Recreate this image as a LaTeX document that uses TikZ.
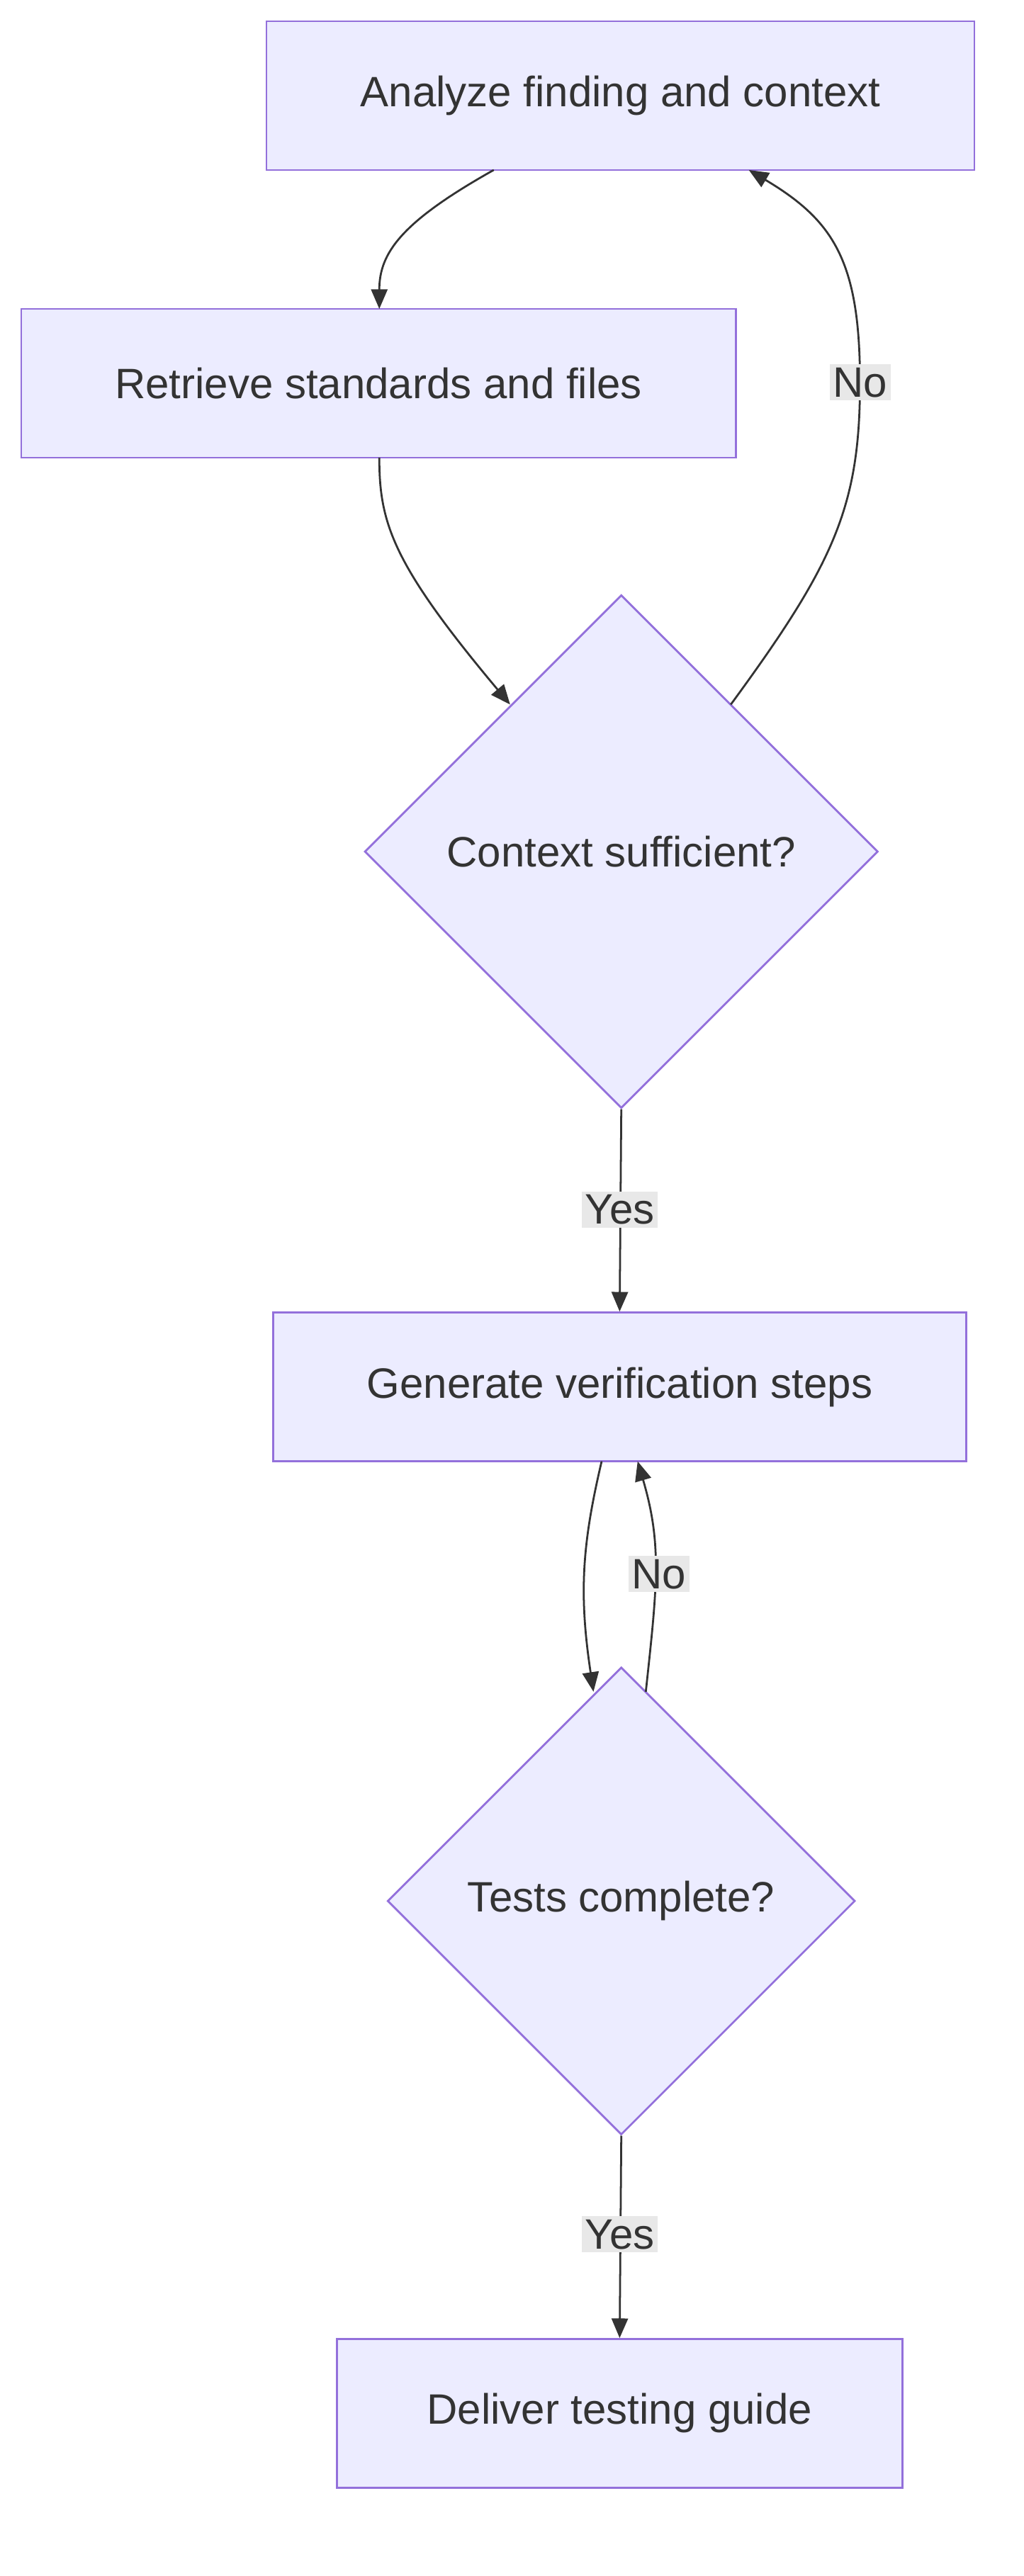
\documentclass[tikz,border=0pt]{standalone}
\usepackage{fontspec}
\setmainfont{Liberation Sans}
\usetikzlibrary{shapes.geometric,arrows.meta}
\definecolor{nfill}{HTML}{ECECFF}
\definecolor{nline}{HTML}{9370DB}
\definecolor{txt}{HTML}{333333}
\definecolor{lbl}{HTML}{E8E8E8}
\begin{document}
\begin{tikzpicture}[x=1pt,y=-1pt,
  box/.style={draw=nline,fill=nfill,line width=1.2pt,text=txt,font=\fontsize{26}{30}\selectfont,inner sep=0pt},
  dia/.style={draw=nline,fill=nfill,line width=1.2pt,diamond,text=txt,font=\fontsize{26}{30}\selectfont,inner sep=0pt,aspect=1},
  lab/.style={fill=lbl,text=txt,font=\fontsize{26}{30}\selectfont,inner sep=2pt},
  arr/.style={draw=txt,line width=1.2pt,-{Triangle[length=12pt,width=10pt]}}]
\useasboundingbox (0,0) rectangle (626,1576);
\node[box,minimum width=433pt,minimum height=91pt] (a) at (379.5,58.5) {Analyze finding and context};
\node[box,minimum width=437pt,minimum height=91pt] (r) at (231.5,234.5) {Retrieve standards and files};
\node[dia,minimum width=314pt,minimum height=314pt] (d1) at (380,521) {Context sufficient?};
\node[box,minimum width=424pt,minimum height=91pt] (g) at (379,848.5) {Generate verification steps};
\node[dia,minimum width=286pt,minimum height=286pt] (d2) at (380,1163) {Tests complete?};
\node[box,minimum width=346pt,minimum height=91pt] (dl) at (379,1476.5) {Deliver testing guide};
\coordinate (a1) at (302,104); \coordinate (r1) at (232,189);
\draw[arr] (a1) .. controls (245,136) and (232,155) .. (r1);
\coordinate (r2) at (232,280); \coordinate (d1a) at (312,431);
\draw[arr] (r2) .. controls (232,320) and (240,345) .. (d1a);
\coordinate (d1b) at (447,431); \coordinate (a2) at (458,104);
\draw[arr] (d1b) .. controls (510,345) and (526,310) .. (526,234) .. controls (526,160) and (510,135) .. (a2);
\node[lab] (n1) at (526,234) {No};
\draw[arr] (d1.south) -- (g.north);
\node[lab] (y1) at (379,740) {Yes};
\coordinate (g1) at (368,894); \coordinate (d2a) at (363,1035);
\draw[arr] (g1) .. controls (356,945) and (354,975) .. (d2a);
\coordinate (d2b) at (395,1035); \coordinate (g2) at (390,894);
\draw[arr] (d2b) .. controls (402,970) and (405,945) .. (g2);
\node[lab] (n2) at (403,963) {No};
\draw[arr] (d2.south) -- (dl.north);
\node[lab] (y2) at (379,1367) {Yes};
\end{tikzpicture}
\end{document}
